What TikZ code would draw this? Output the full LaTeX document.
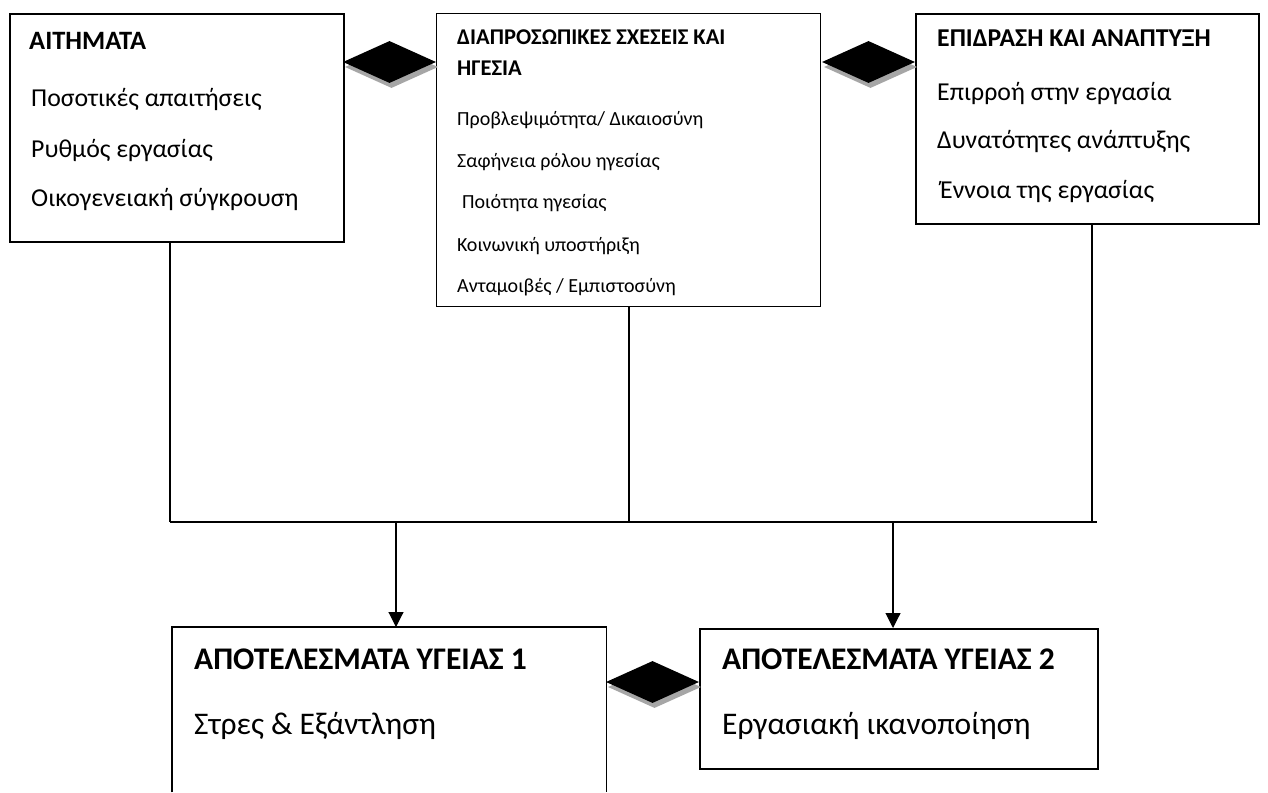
\documentclass[tikz,border=0pt]{standalone}
\usepackage{fontspec}
\setmainfont{Carlito}
\usetikzlibrary{shapes.geometric,arrows.meta,shadows}
\begin{document}
\begin{tikzpicture}[x=1pt,y=-1pt,
  boxst/.style={draw=black, line width=#1, anchor=north west, inner sep=0pt, fill=white},
  openbox/.style={draw=none, anchor=north west, inner sep=0pt},
  txt/.style={anchor=base west, inner sep=0pt},
  dia/.style={diamond, fill=black, inner sep=0pt, minimum width=93pt, minimum height=42pt,
    drop shadow={shadow xshift=2pt, shadow yshift=-5pt, fill=black!35, opacity=1}},
  conn/.style={line width=1.3pt},
  bus/.style={line width=2.4pt},
  arr/.style={line width=1.1pt, -{Triangle[width=15pt,length=15pt]}},
  tA/.style={font=\fontsize{26.5}{30}\selectfont\bfseries},
  tC/.style={font=\fontsize{25.7}{30}\selectfont\bfseries},
  iA/.style={font=\fontsize{25.8}{30}\selectfont},
  tB/.style={font=\fontsize{22.5}{26}\selectfont\bfseries},
  iB/.style={font=\fontsize{20}{24}\selectfont},
  tD/.style={font=\fontsize{31.5}{36}\selectfont\bfseries},
  iD/.style={font=\fontsize{31.5}{36}\selectfont}
]
\useasboundingbox[fill=white] (0,0) rectangle (1268,792);

% boxes
\node[boxst=1.8pt, minimum width=334pt, minimum height=228pt] (A) at (9,13) {};
\node[boxst=1.2pt, minimum width=384pt, minimum height=293pt] (B) at (436,13) {};
\node[boxst=1.8pt, minimum width=343pt, minimum height=210pt] (C) at (915,13) {};
\node[openbox, minimum width=434pt, minimum height=165pt] (D) at (172,627) {};
\node[boxst=1.5pt, minimum width=398pt, minimum height=140pt] (E) at (699,628) {};
\draw[line width=1.5pt] (D.south west) -- (D.north west) -- (D.north east) -- (D.south east);

% diamonds
\node[dia] (d1) at (389.5,62) {};
\node[dia] (d2) at (868.5,62) {};
\node[dia] (d3) at (652.5,682) {};

% texts box A
\node[txt, tA] (a0) at (29,50) {ΑΙΤΗΜΑΤΑ};
\node[txt, iA] (a1) at (31,106) {Ποσοτικές απαιτήσεις};
\node[txt, iA] (a2) at (31,157) {Ρυθμός εργασίας};
\node[txt, iA] (a3) at (31,206) {Οικογενειακή σύγκρουση};

% texts box B
\node[txt, tB] (b0) at (457,45) {ΔΙΑΠΡΟΣΩΠΙΚΕΣ ΣΧΕΣΕΙΣ ΚΑΙ};
\node[txt, tB] (b0b) at (457,75) {ΗΓΕΣΙΑ};
\node[txt, iB] (b1) at (457,125) {Προβλεψιμότητα/ Δικαιοσύνη};
\node[txt, iB] (b2) at (457,167) {Σαφήνεια ρόλου ηγεσίας};
\node[txt, iB] (b3) at (462,208) {Ποιότητα ηγεσίας};
\node[txt, iB] (b4) at (457,251) {Κοινωνική υποστήριξη};
\node[txt, iB] (b5) at (457,292) {Ανταμοιβές / Εμπιστοσύνη};

% texts box C
\node[txt, tC] (c0) at (937,47) {ΕΠΙΔΡΑΣΗ ΚΑΙ ΑΝΑΠΤΥΞΗ};
\node[txt, iA] (c1) at (937,100) {Επιρροή στην εργασία};
\node[txt, iA] (c2) at (937,148) {Δυνατότητες ανάπτυξης};
\node[txt, iA] (c3) at (940,198) {Έννοια της εργασίας};

% texts box D, E
\node[txt, tD] (dd0) at (194,669) {ΑΠΟΤΕΛΕΣΜΑΤΑ ΥΓΕΙΑΣ 1};
\node[txt, iD] (dd1) at (194,734) {Στρες \& Εξάντληση};
\node[txt, tD] (e0) at (722,669) {ΑΠΟΤΕΛΕΣΜΑΤΑ ΥΓΕΙΑΣ 2};
\node[txt, iD] (e1) at (722,734) {Εργασιακή ικανοποίηση};

% bus and connectors
\coordinate (busL) at (170,522);
\coordinate (busR) at (1097,522);
\coordinate (j1) at (170,522);
\coordinate (j2) at (629,522);
\coordinate (j3) at (1092,522);
\coordinate (o1) at (396,522);
\coordinate (o2) at (893,522);
\draw[conn] (A.south -| j1) -- (j1);
\draw[conn] (B.south -| j2) -- (j2);
\draw[conn] (C.south -| j3) -- (j3);
\draw[bus] (busL) -- (busR);
\draw[arr] (o1) -- (D.north -| o1);
\draw[arr] (o2) -- (E.north -| o2);
\end{tikzpicture}
\end{document}
